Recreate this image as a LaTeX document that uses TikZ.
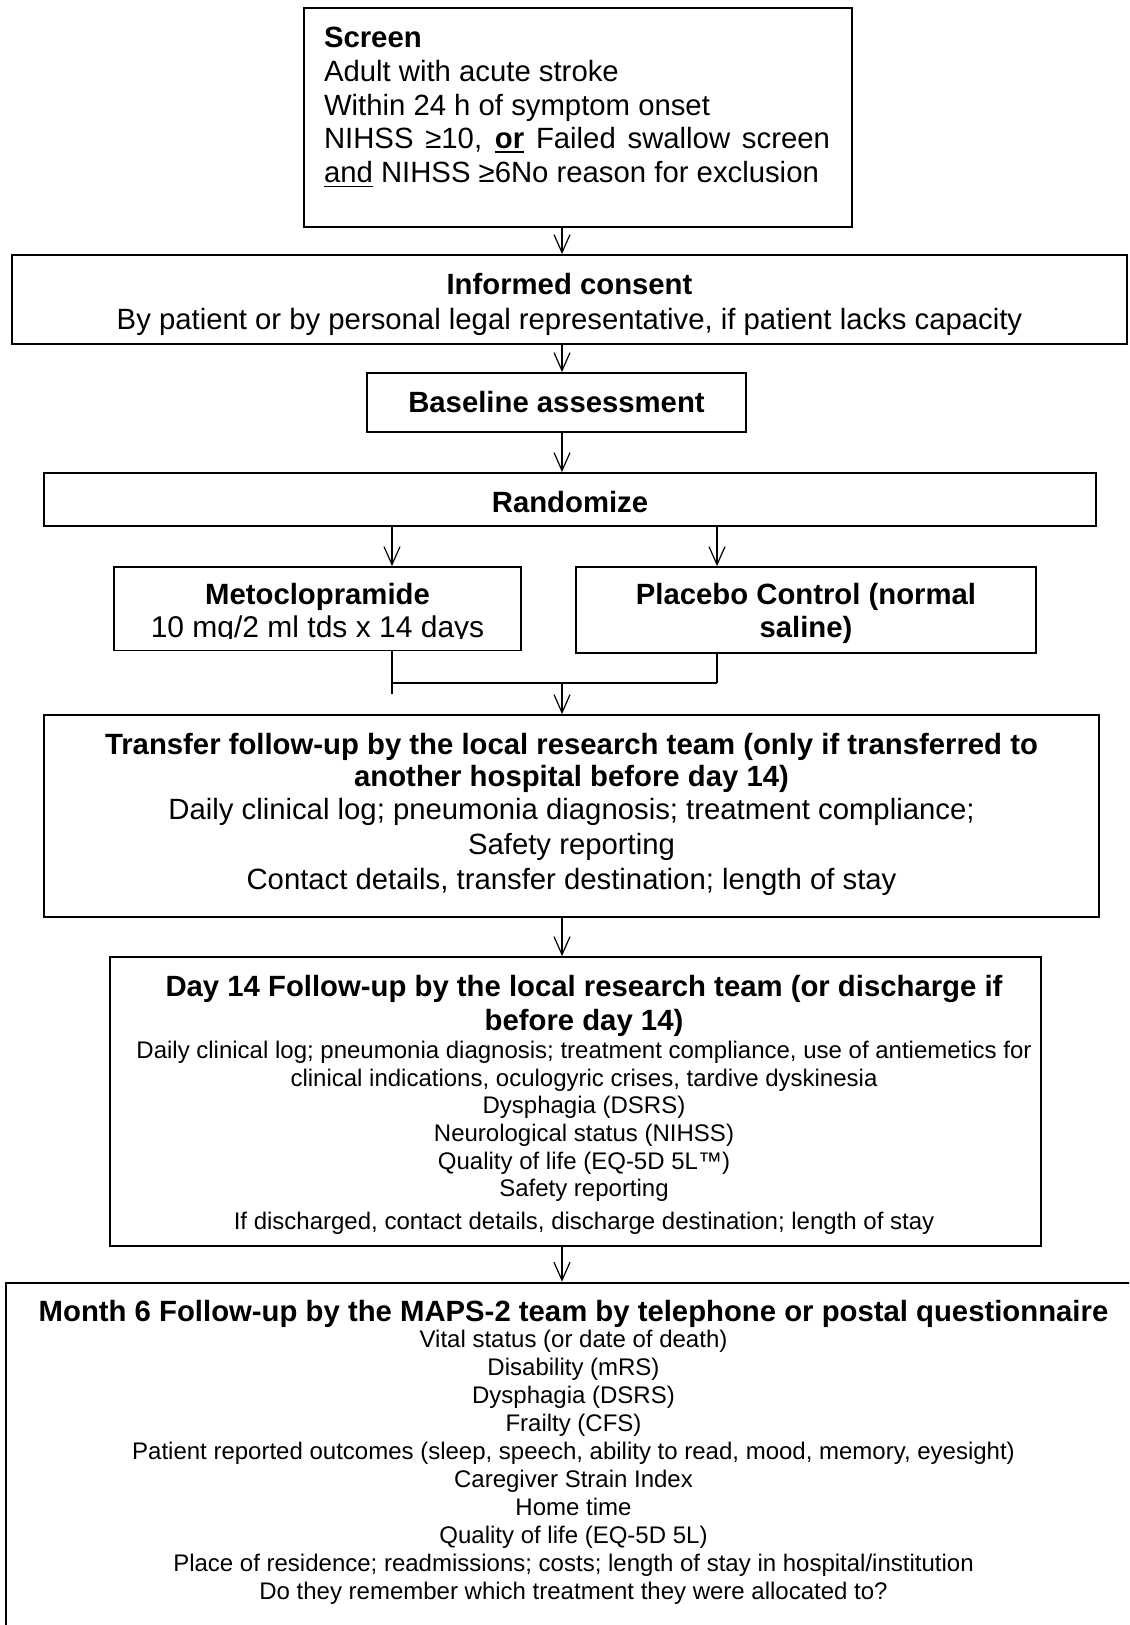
\documentclass[tikz,border=0pt]{standalone}
\usepackage{fontspec}
\setmainfont{Liberation Sans}
\usetikzlibrary{arrows.meta}
\newcommand\bx[4]{\parbox[c][#2][t]{#1}{\vspace*{#3}\centering #4}}
\newcommand\fl{\rule{0pt}{0.8em}}
\newcommand\BIGF{\fontsize{14.65pt}{16.5pt}\selectfont}
\newsavebox\ulbox
\newcommand\myul[2]{\leavevmode\sbox\ulbox{#2}\rlap{\rule[-2.3pt]{\wd\ulbox}{#1}}\usebox{\ulbox}}
\tikzset{
  box/.style={draw, line width=0.9pt, inner sep=0pt},
  arr/.style={line width=0.6pt, -{Straight Barb[length=9pt,width=8pt]}},
  ln/.style={line width=0.6pt},
  hl/.style={line width=1pt}
}
\begin{document}
\begin{tikzpicture}[x=0.5pt,y=-0.5pt]
\path[use as bounding box] (0,0) rectangle (1129,1625);
\clip (0,0) rectangle (1129,1625);
\coordinate (spine) at (562,0);
\coordinate (lcol) at (392,0);
\coordinate (rcol) at (717,0);

\node[box] (screen) at (578,117.5) {\parbox[c][109.5pt][t]{274pt}{\vspace*{8.1pt}\raggedright\leftskip=10pt
  \fontsize{14.65pt}{16.85pt}\selectfont\fl\textbf{Screen}\\
  Adult with acute stroke\\
  Within 24 h of symptom onset\\
  \makebox[253pt][s]{NIHSS ≥10, \myul{1pt}{\textbf{or}} Failed swallow screen}\\
  \myul{0.7pt}{and} NIHSS ≥6No reason for exclusion}};

\node[box] (consent) at (569.5,299.5) {\bx{557.5pt}{44.5pt}{8.1pt}{\fontsize{14.65pt}{17.5pt}\selectfont\fl\textbf{Informed consent}\\
  By patient or by personal legal representative, if patient lacks capacity}};

\node[box] (baseline) at (556.5,402.5) {\bx{189.5pt}{29.5pt}{8.1pt}{\BIGF\fl\textbf{Baseline assessment}}};

\node[box] (rand) at (570,499.5) {\bx{526pt}{26.5pt}{8.1pt}{\BIGF\fl\textbf{Randomize}}};

\node[box] (meto) at (317.5,608.5) {\bx{203.5pt}{41.5pt}{7.1pt}{\fontsize{14.65pt}{16.5pt}\selectfont\fl\textbf{Metoclopramide}\\
  \fontsize{15pt}{16.5pt}\selectfont 10 mg/2 ml tds x 14 days}};
\fill[white] ([xshift=1pt,yshift=0.6pt]meto.south west) rectangle ([xshift=-1pt,yshift=5.8pt]meto.south east);

\node[box] (placebo) at (806,610) {\bx{230pt}{43pt}{7.1pt}{\fontsize{14.65pt}{16.5pt}\selectfont\bfseries\fl Placebo Control (normal\\ saline)}};

\node[box] (transfer) at (571.5,816) {\bx{527.5pt}{101pt}{8.1pt}{%
  {\bfseries\fontsize{14.65pt}{16pt}\selectfont\fl Transfer follow-up by the local research team (only if transferred to\\ another hospital before day 14)\par}
  \fontsize{14.65pt}{17.5pt}\selectfont\vspace{-1pt}
  Daily clinical log; pneumonia diagnosis; treatment compliance;\\
  Safety reporting\\
  Contact details, transfer destination; length of stay}};

\node[box] (day14) at (575.5,1101.5) {\bx{465.5pt}{144.5pt}{8.1pt}{%
  \leftskip=8.5pt plus 1fil
  {\bfseries\fontsize{14.65pt}{17pt}\selectfont\fl Day 14 Follow-up by the local research team (or discharge if\\ before day 14)\par}
  \fontsize{12pt}{13.85pt}\selectfont
  Daily clinical log; pneumonia diagnosis; treatment compliance, use of antiemetics for\\
  clinical indications, oculogyric crises, tardive dyskinesia\\
  Dysphagia (DSRS)\\
  Neurological status (NIHSS)\\
  Quality of life (EQ-5D 5L™)\\
  Safety reporting\\[2.65pt]
  If discharged, contact details, discharge destination; length of stay}};

\node[box, line width=1.3pt] (month6) at (573.5,1491.5) {\bx{567.5pt}{208.5pt}{7.6pt}{%
  {\bfseries\fontsize{14.65pt}{17pt}\selectfont\fl Month 6 Follow-up by the MAPS-2 team by telephone or postal questionnaire\par}
  \fontsize{12pt}{14pt}\selectfont\vspace{-0.85pt}
  Vital status (or date of death)\\
  Disability (mRS)\\
  Dysphagia (DSRS)\\
  Frailty (CFS)\\
  Patient reported outcomes (sleep, speech, ability to read, mood, memory, eyesight)\\
  Caregiver Strain Index\\
  Home time\\
  Quality of life (EQ-5D 5L)\\
  Place of residence; readmissions; costs; length of stay in hospital/institution\\
  Do they remember which treatment they were allocated to?}};

\coordinate (mergeL) at (392,683);
\coordinate (mergeR) at (717,683);
\coordinate (mstub) at (392,694);

\draw[arr] (screen.south -| spine) -- (consent.north -| spine);
\draw[arr] (consent.south -| spine) -- (baseline.north -| spine);
\draw[arr] (baseline.south -| spine) -- (rand.north -| spine);
\draw[arr] (rand.south -| lcol) -- (meto.north -| lcol);
\draw[arr] (rand.south -| rcol) -- (placebo.north -| rcol);
\draw[ln] (meto.south -| lcol) -- (mstub);
\draw[ln] (placebo.south -| rcol) -- (mergeR);
\draw[hl] (mergeL) -- (mergeR);
\draw[arr] (mergeL -| spine) -- (transfer.north -| spine);
\draw[arr] (transfer.south -| spine) -- (day14.north -| spine);
\draw[arr] (day14.south -| spine) -- (month6.north -| spine);
\end{tikzpicture}
\end{document}
